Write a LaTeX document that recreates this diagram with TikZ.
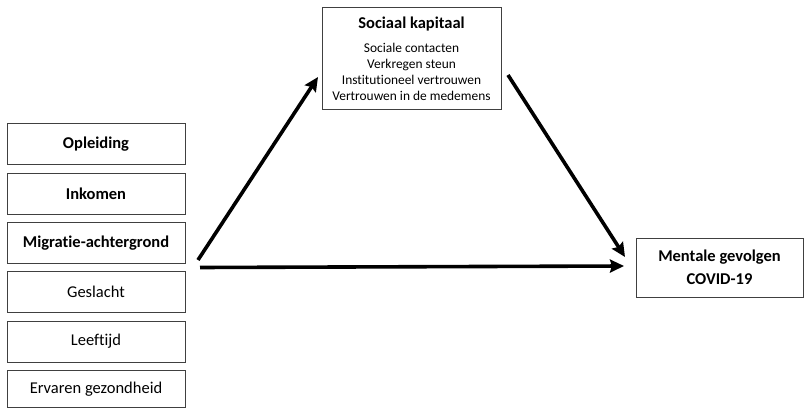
\documentclass[tikz,border=0pt]{standalone}
\usepackage{fontspec}
\setmainfont[Ligatures={NoCommon}]{Carlito}
\usetikzlibrary{arrows.meta}
\begin{document}
\begin{tikzpicture}[x=1pt,y=-1pt,
  varbox/.style={draw=black!75,line width=0.8pt,rectangle,minimum width=178pt,minimum height=41pt,inner sep=0pt,font=\fontsize{16.5}{18}\selectfont},
  arr/.style={line width=3.6pt,-{Stealth[length=14pt,width=13pt,inset=2pt]}}]
\useasboundingbox (0,0) rectangle (808,409);
% left boxes
\node[varbox] (opl) at (96,144) {\bfseries Opleiding};
\node[varbox] (ink) at (96,193.5) {\bfseries Inkomen};
\node[varbox] (mig) at (96,243) {\bfseries Migratie-achtergrond};
\node[varbox] (ges) at (96,292) {Geslacht};
\node[varbox] (lee) at (96,341.5) {Leeftijd};
\node[varbox,minimum height=37.5pt] (erv) at (96,389) {Ervaren gezondheid};
% social capital
\node[draw=black!75,line width=0.8pt,minimum width=179pt,minimum height=102pt,inner sep=0pt] (sk) at (411.5,58) {};
\node[font=\fontsize{16.5}{18}\selectfont\bfseries] (skt) at (411.5,24) {Sociaal kapitaal};
\node[font=\fontsize{13.4}{16}\selectfont,align=center,anchor=north] (ski) at (411.5,40) {Sociale contacten\\Verkregen steun\\Institutioneel vertrouwen\\Vertrouwen in de medemens};
% outcome
\node[draw=black!75,line width=0.8pt,minimum width=167pt,minimum height=59pt,inner sep=0pt,align=center,font=\fontsize{16.5}{23}\selectfont\bfseries] (men) at (719.5,267.5) {Mentale gevolgen\\COVID-19};
% arrows
\coordinate (a1s) at (198,260);
\coordinate (a1e) at (318,77);
\coordinate (a2s) at (508,75);
\coordinate (a2e) at (625,257);
\coordinate (a3s) at (200,267.5);
\coordinate (a3e) at (624,266);
\draw[arr] (a1s) -- (a1e);
\draw[arr] (a2s) -- (a2e);
\draw[arr] (a3s) -- (a3e);
\end{tikzpicture}
\end{document}
